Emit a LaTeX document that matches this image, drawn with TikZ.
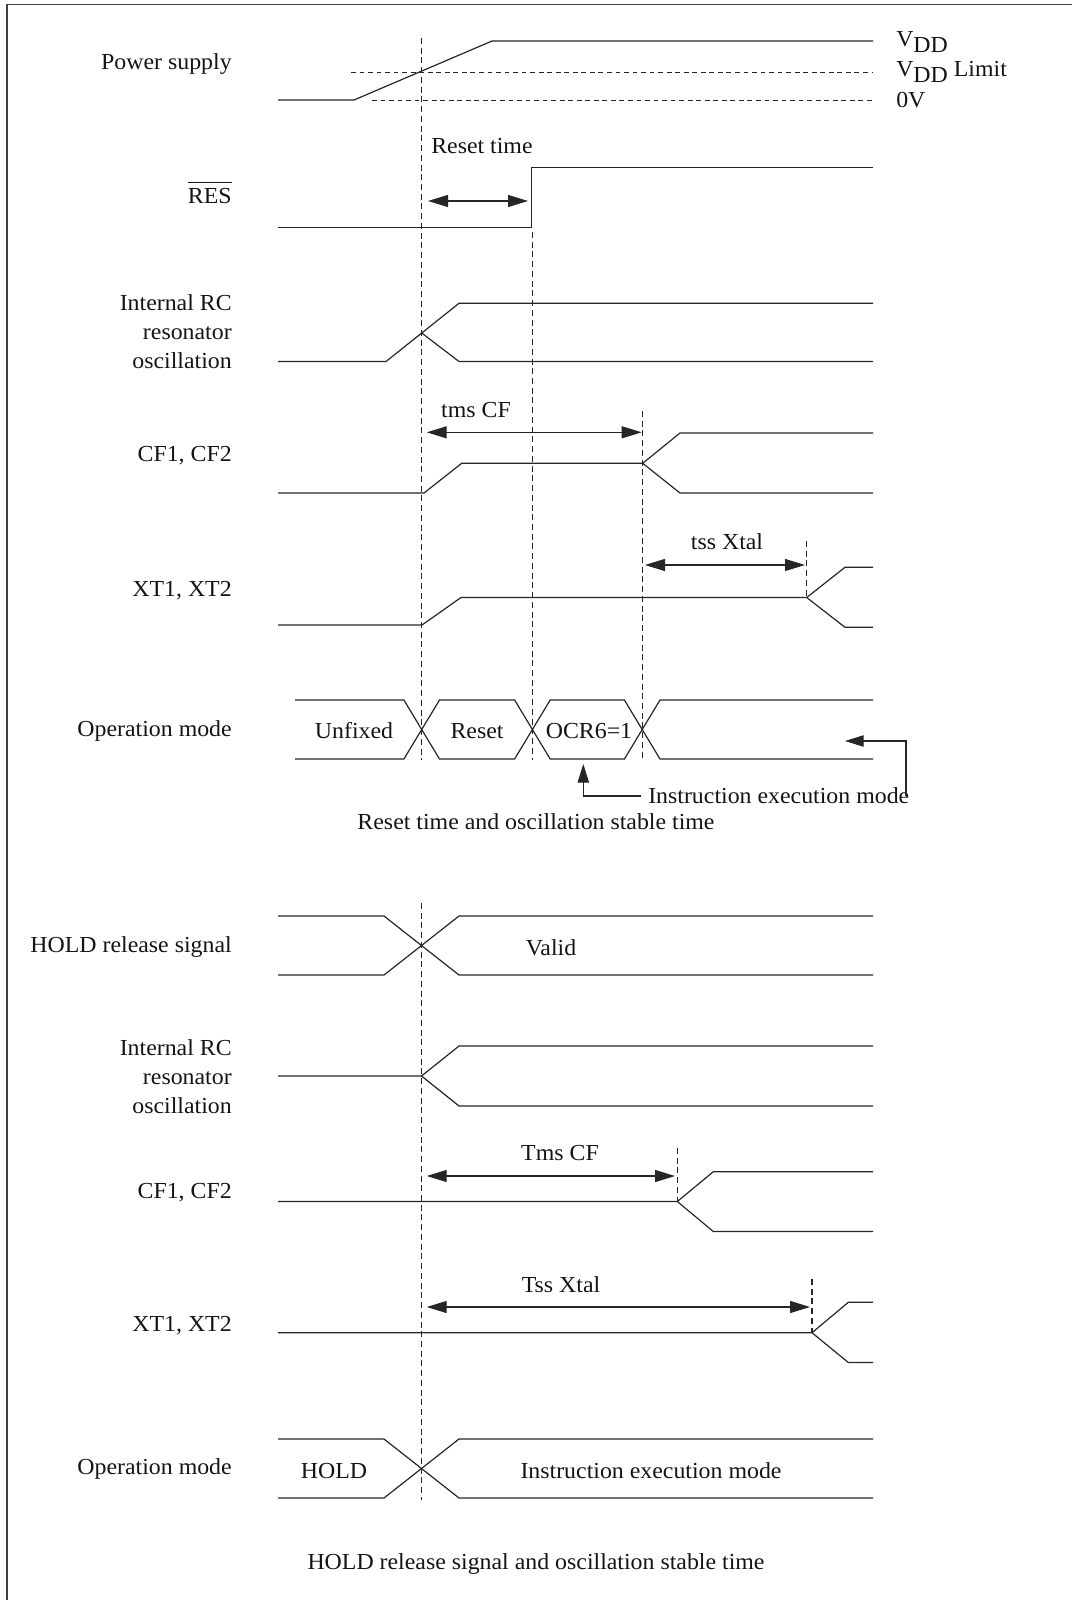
\documentclass[tikz,border=0pt]{standalone}
\usepackage{fontspec}
\setmainfont{Liberation Serif}[FakeStretch=1.04]
\usetikzlibrary{arrows.meta}
\begin{document}
\begin{tikzpicture}[x=0.75pt,y=-0.75pt,
  sig/.style={line width=0.9pt, draw=black!85, line join=miter},
  vgrid/.style={line width=0.8pt, draw=black!85, dash pattern=on 4.5pt off 2.8pt},
  hgrid/.style={line width=0.8pt, draw=black!85, dash pattern=on 3.6pt off 2.8pt},
  dimarrow/.style={line width=0.9pt, draw=black!85, {Triangle[length=15pt,width=9pt]}-{Triangle[length=15pt,width=9pt]}},
  ptr/.style={line width=0.9pt, draw=black!85, -{Triangle[length=14pt,width=8.5pt]}},
  lbl/.style={font=\fontsize{17.2pt}{21.75pt}\selectfont, inner sep=0pt, text=black!92},
  side/.style={lbl, anchor=east, align=right}]
\useasboundingbox (0,0) rectangle (1072,1600);
% frame
\draw[line width=1pt, draw=black!75] (7,1600) -- (7,4.3) -- (1072,4.3);

% ---------------- left labels ----------------
\node[side] (lps) at (232,64) {Power supply};
\node[side] (lres) at (232,196) {RES};
\coordinate (ovl) at (0,182.5);
\draw[line width=0.8pt, draw=black!90] (lres.west |- ovl) -- (lres.east |- ovl);
\node[side] (lrc1) at (232,332) {Internal RC\\resonator\\oscillation};
\node[side] (lcf1) at (232,456) {CF1, CF2};
\node[side] (lxt1) at (232,591) {XT1, XT2};
\node[side] (lom1) at (232,731) {Operation mode};
\node[side] (lhr) at (232,947) {HOLD release signal};
\node[side] (lrc2) at (232,1077) {Internal RC\\resonator\\oscillation};
\node[side] (lcf2) at (232,1193) {CF1, CF2};
\node[side] (lxt2) at (232,1326) {XT1, XT2};
\node[side] (lom2) at (232,1469) {Operation mode};

% ---------------- top diagram ----------------
% vertical reference lines
\draw[vgrid] (421.7,38) -- (421.7,760);
\draw[vgrid] (532.4,232) -- (532.4,760);
\draw[vgrid] (642.2,411) -- (642.2,760);
\draw[vgrid] (806.7,541) -- (806.7,597);

% power supply
\draw[sig] (278,100) -- (354,100) -- (492,41) -- (873,41);
\draw[hgrid] (351,72.7) -- (873,72.7);
\draw[hgrid] (372,100.3) -- (873,100.3);
\node[lbl, anchor=base west] (vdd) at (896,46) {V\raisebox{-5pt}{DD}};
\node[lbl, anchor=base west] (vddl) at (896,76) {V\raisebox{-5pt}{DD} Limit};
\node[lbl, anchor=base west] (zv) at (896,107) {0V};

% RES
\draw[sig] (278,227.3) -- (531.7,227.3) -- (531.7,167.3) -- (873,167.3);
\node[lbl, anchor=base west] (trst) at (431,153) {Reset time};
\draw[dimarrow] (428,201) -- (528,201);

% internal RC (top)
\draw[sig] (278,361.5) -- (386,361.5) -- (459,303.3) -- (873,303.3);
\draw[sig] (421.7,333) -- (459,361.5) -- (873,361.5);

% CF1, CF2 (top)
\node[lbl] (ttms) at (476,410) {tms CF};
\draw[dimarrow] (426.7,432.3) -- (641.7,432.3);
\draw[sig] (278,493) -- (424,493) -- (461.7,463.3) -- (642.7,463.3) -- (680,433) -- (873,433);
\draw[sig] (642.7,463.3) -- (680,493) -- (873,493);

% XT1, XT2 (top)
\node[lbl] (ttss) at (727,542) {tss Xtal};
\draw[dimarrow] (645,565) -- (805,565);
\draw[sig] (278,625) -- (422,625) -- (461,597.5) -- (806.7,597.5) -- (845,567.3) -- (873,567.3);
\draw[sig] (806.7,597.5) -- (845,627.3) -- (873,627.3);

% operation mode (top)
\draw[sig] (295,700) -- (403.9,700) -- (439.5,759) -- (514.6,759) -- (550.2,700) -- (624.4,700) -- (660,759) -- (873,759);
\draw[sig] (295,759) -- (403.9,759) -- (439.5,700) -- (514.6,700) -- (550.2,759) -- (624.4,759) -- (660,700) -- (873,700);
\node[lbl] (tunf) at (354,731) {Unfixed};
\node[lbl] (treset) at (477,731) {Reset};
\node[lbl] (tocr) at (589,731) {OCR6=1};
\node[lbl, anchor=west] (tiem1) at (648,796) {Instruction execution mode};
\coordinate (up) at (583.3,764);
\coordinate (lt) at (845,741);
\coordinate (rs) at (906,796);
\draw[ptr] ([xshift=-5]tiem1.west) -| (up);
\draw[ptr] (rs) |- (lt);
\node[lbl] (cap1) at (536,822) {Reset time and oscillation stable time};

% ---------------- bottom diagram ----------------
\draw[vgrid] (421.5,903) -- (421.5,1500);
\draw[vgrid] (677.3,1148) -- (677.3,1201);
\draw[vgrid] (812,1279) -- (812,1333);

% HOLD release signal
\draw[sig] (278,916) -- (384,916) -- (459,975) -- (873,975);
\draw[sig] (278,975) -- (384,975) -- (459,916) -- (873,916);
\node[lbl] (tvalid) at (551,948) {Valid};

% internal RC (bottom)
\draw[sig] (278,1076) -- (421.5,1076) -- (459,1046) -- (873,1046);
\draw[sig] (421.5,1076) -- (459,1106) -- (873,1106);

% CF1, CF2 (bottom)
\node[lbl] (tTms) at (560,1153) {Tms CF};
\draw[dimarrow] (426.7,1176) -- (675,1176);
\draw[sig] (278,1201.5) -- (677.3,1201.5) -- (713.3,1171.7) -- (873,1171.7);
\draw[sig] (677.3,1201.5) -- (713.3,1231.5) -- (873,1231.5);

% XT1, XT2 (bottom)
\node[lbl] (tTss) at (561,1285) {Tss Xtal};
\draw[dimarrow] (426.7,1307) -- (810,1307);
\draw[sig] (278,1332.7) -- (812,1332.7) -- (848.3,1302.3) -- (873,1302.3);
\draw[sig] (812,1332.7) -- (848.3,1362.5) -- (873,1362.5);

% operation mode (bottom)
\draw[sig] (278,1439) -- (384,1439) -- (459,1498) -- (873,1498);
\draw[sig] (278,1498) -- (384,1498) -- (459,1439) -- (873,1439);
\node[lbl] (thold) at (334,1471) {HOLD};
\node[lbl] (tiem2) at (651,1471) {Instruction execution mode};
\node[lbl] (cap2) at (536,1564) {HOLD release signal and oscillation stable time};
\end{tikzpicture}
\end{document}
